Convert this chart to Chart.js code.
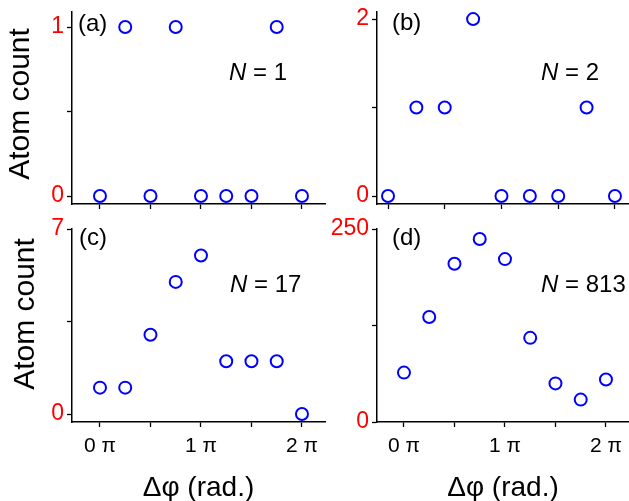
<!DOCTYPE html>
<html><head><meta charset="utf-8">
<script src="https://cdn.jsdelivr.net/npm/chart.js@4.4.1/dist/chart.umd.min.js"></script>
<style>
html,body{margin:0;padding:0;background:#fff;overflow:hidden;width:629px;height:501px;}
canvas{position:absolute;}
</style></head><body>
<canvas id="ca" width="330" height="215" style="left:0;top:0"></canvas>
<canvas id="cb" width="299" height="215" style="left:330px;top:0"></canvas>
<canvas id="cc" width="330" height="295" style="left:0;top:215px"></canvas>
<canvas id="cd" width="299" height="295" style="left:330px;top:215px"></canvas>
<script>
// ---- data ----
const phases = [0, 0.25, 0.5, 0.75, 1, 1.25, 1.5, 1.75, 2];   // Δφ in units of π
const countsA = [0, 1, 0, 1, 0, 0, 0, 1, 0];
const countsB = [0, 1, 1, 2, 0, 0, 0, 1, 0];
const countsC = [1, 1, 3, 5, 6, 2, 2, 2, 0];
const countsD = [64, 136, 205, 237, 211, 109, 50, 29, 55];
const atomNumbers = [1, 2, 17, 813];
const panelNames = ['(a)', '(b)', '(c)', '(d)'];
const xTickValues = [0, 0.5, 1, 1.5, 2];
const xTickLabels = ['0 π', '', '1 π', '', '2 π'];
const yTicksA = [0, 0.5, 1],   yLabelsA = ['0', '', '1'];
const yTicksB = [0, 1, 2],     yLabelsB = ['0', '', '2'];
const yTicksC = [0, 3.5, 7],   yLabelsC = ['0', '', '7'];
const yTicksD = [0, 125, 250], yLabelsD = ['0', '', '250'];
const xTitle = 'Δφ (rad.)';
const yTitle = 'Atom count';

const FONT = "'Liberation Sans', Arial, sans-serif";

const annot = {
  id: 'annot',
  afterDraw(chart, args, o) {
    const ctx = chart.ctx;
    ctx.save();
    ctx.fillStyle = '#000';
    ctx.textBaseline = 'middle';
    ctx.textAlign = 'left';
    ctx.font = '24px ' + FONT;
    ctx.fillText(o.panel, o.px, o.py);
    ctx.font = 'italic 24px ' + FONT;
    ctx.fillText('N', o.nx, o.ny);
    const w = ctx.measureText('N').width;
    ctx.font = '24px ' + FONT;
    ctx.fillText(' = ' + o.n, o.nx + w, o.ny);
    if (o.yTitle) {
      ctx.translate(o.tx, o.ty);
      ctx.rotate(-Math.PI / 2);
      ctx.textAlign = 'center';
      ctx.font = '30px ' + FONT;
      ctx.fillText(o.yTitle, 0, 0);
    }
    ctx.restore();
  }
};

function noPad(s) {
  s.paddingTop = 0; s.paddingBottom = 0; s.paddingLeft = 0; s.paddingRight = 0;
}

function makeChart(id, c) {
  const grid = {drawOnChartArea: false, drawTicks: true, tickLength: 5, tickColor: '#000', tickWidth: 1.3};
  const border = {display: true, color: '#000', width: 1.5};
  new Chart(document.getElementById(id), {
    type: 'scatter',
    data: {datasets: [{
      data: phases.map((p, i) => ({x: p, y: c.counts[i]})),
      pointRadius: 6, pointHoverRadius: 6, borderWidth: 2,
      borderColor: '#0000ff', backgroundColor: 'rgba(0,0,0,0)', showLine: false, clip: false
    }]},
    options: {
      responsive: false, animation: false, devicePixelRatio: 1,
      layout: {autoPadding: false, padding: c.pad},
      plugins: {legend: {display: false}, tooltip: {enabled: false}, annot: c.annot},
      events: [],
      scales: {
        x: {
          type: 'linear', min: c.xMin, max: c.xMax,
          afterBuildTicks: s => { s.ticks = xTickValues.map(v => ({value: v})); },
          afterFit: s => { s.height = c.xHeight; noPad(s); },
          grid, border,
          ticks: {display: c.showX, autoSkip: false, maxRotation: 0, color: '#000', padding: 7,
                  font: {family: FONT, size: 21}, callback: (v, i) => xTickLabels[i]},
          title: {display: c.showX, text: xTitle, color: '#000', font: {family: FONT, size: 28},
                  padding: {top: 0, bottom: 5}}
        },
        y: {
          type: 'linear', min: c.yMin, max: c.yMax,
          afterBuildTicks: s => { s.ticks = c.yTicks.map(v => ({value: v})); },
          afterFit: s => { s.width = c.yWidth; noPad(s); },
          grid, border,
          ticks: {color: '#ff0000', padding: 3, font: {family: FONT, size: 23},
                  callback: (v, i) => c.yLabels[i]}
        }
      }
    },
    plugins: [annot]
  });
}

makeChart('ca', {counts: countsA, yTicks: yTicksA, yLabels: yLabelsA,
  xMin: -0.277, xMax: 2.228, yMin: -0.047, yMax: 1.089,
  yWidth: 72, xHeight: 11, pad: {top: 12, right: 5, left: 0, bottom: 0}, showX: false,
  annot: {panel: panelNames[0], px: 78, py: 24, n: atomNumbers[0], nx: 229, ny: 73,
          yTitle: yTitle, tx: 21, ty: 104}});
makeChart('cb', {counts: countsB, yTicks: yTicksB, yLabels: yLabelsB,
  xMin: -0.097, xMax: 2.115, yMin: -0.09, yMax: 2.08,
  yWidth: 47, xHeight: 11, pad: {top: 12, right: 1, left: 0, bottom: 0}, showX: false,
  annot: {panel: panelNames[1], px: 62, py: 23, n: atomNumbers[1], nx: 211, ny: 73}});
makeChart('cc', {counts: countsC, yTicks: yTicksC, yLabels: yLabelsC,
  xMin: -0.277, xMax: 2.228, yMin: -0.30, yMax: 7,
  yWidth: 72, xHeight: 88, pad: {top: 14, right: 5, left: 0, bottom: 0}, showX: true,
  annot: {panel: panelNames[2], px: 79, py: 23, n: atomNumbers[2], nx: 230, ny: 70,
          yTitle: yTitle, tx: 26, ty: 99}});
makeChart('cd', {counts: countsD, yTicks: yTicksD, yLabels: yLabelsD,
  xMin: -0.267, xMax: 2.228, yMin: 0, yMax: 250,
  yWidth: 47, xHeight: 88, pad: {top: 14, right: 0, left: 0, bottom: 0}, showX: true,
  annot: {panel: panelNames[3], px: 62, py: 23, n: atomNumbers[3], nx: 211, ny: 70}});
</script>
</body></html>
